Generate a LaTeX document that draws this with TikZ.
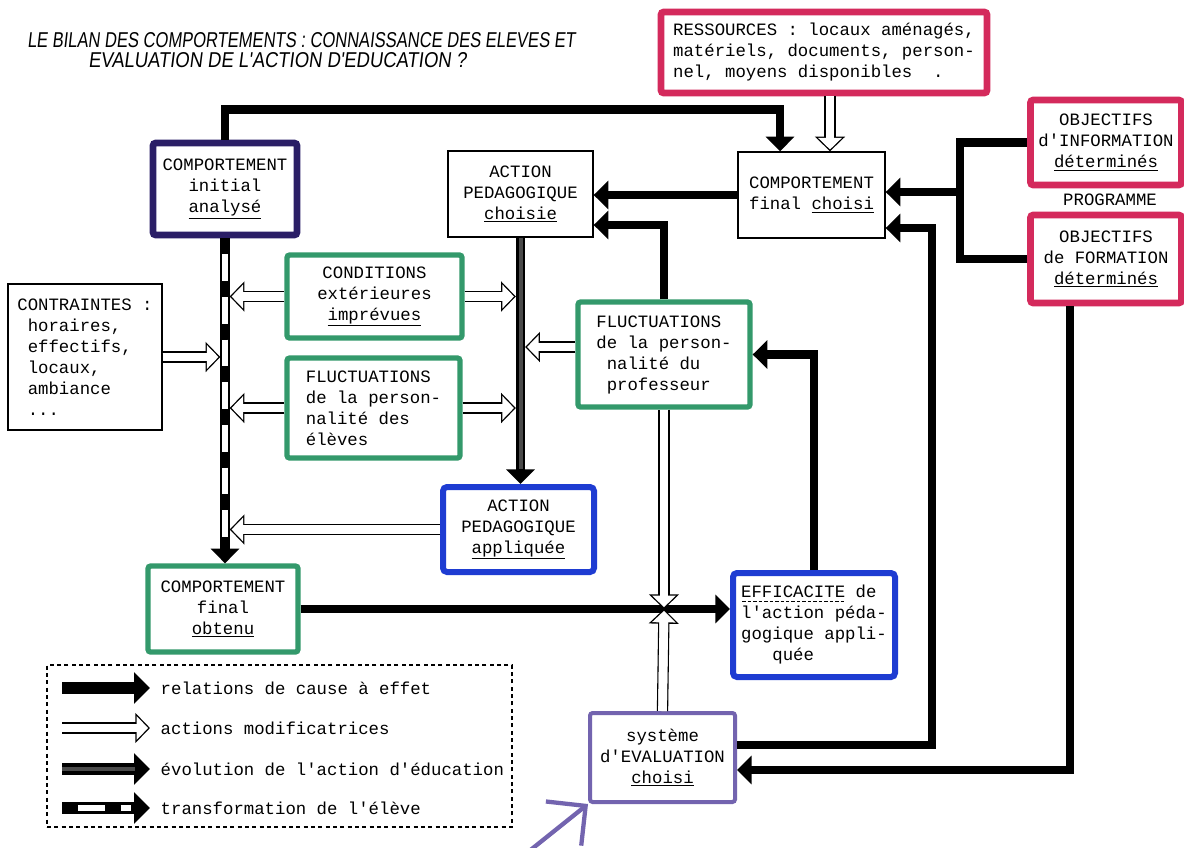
\documentclass[tikz,border=0pt]{standalone}
\usepackage{fontspec}
\usetikzlibrary{arrows.meta,calc}
\newfontfamily\tw{Liberation Mono}
\newfontfamily\titlefont{Liberation Sans}[FakeSlant=0.15]
\definecolor{cred}{HTML}{D42A5C}
\definecolor{cnavy}{HTML}{2A1E66}
\definecolor{cgreen}{HTML}{33996B}
\definecolor{cblue}{HTML}{1E3CD2}
\definecolor{clav}{HTML}{7364AF}
\definecolor{cgray}{HTML}{4A4A4A}
\newbox\dulbox
\newcommand\dashul[1]{\setbox\dulbox\hbox{#1}\rlap{\copy\dulbox}\raisebox{-3pt}{\hbox to \wd\dulbox{\xleaders\hbox to 4pt{\hss\vrule width 2.6pt height 0.7pt\hss}\hfill}}}
\tikzset{
  txt/.style={font=\tw\fontsize{13}{15.75}\selectfont},
  box/.style={txt, draw=black, line width=1pt, align=center, inner sep=2pt, fill=white},
  redbox/.style={box, draw=cred, line width=5pt, rounded corners=2pt},
  navybox/.style={box, draw=cnavy, line width=5pt, rounded corners=2pt},
  greenbox/.style={box, draw=cgreen, line width=4pt, rounded corners=2pt},
  bluebox/.style={box, draw=cblue, line width=4.5pt, rounded corners=3pt},
  lavbox/.style={box, draw=clav, line width=3pt, rounded corners=2pt},
  causeline/.style={draw=black, line width=6.5pt},
  cause/.style={causeline, -{Triangle[length=11pt,width=21pt]}},
  evol/.style={draw=black, line width=7pt, -{Triangle[length=11pt,width=21pt]},
     postaction={draw=cgray, line width=3pt, arrows=-, shorten >=11pt}},
  transf/.style={draw=black, line width=7.5pt, -{Triangle[length=11pt,width=21pt]},
     postaction={draw=white, line width=4.5pt, arrows=-, shorten >=14pt, shorten <=12pt, dash pattern=on 20pt off 12pt}},
  modif/.style={draw=black, line width=8.5pt, -{Triangle[length=11pt,width=22pt]},
     postaction={draw=white, line width=6.5pt, -{Triangle[length=8.6pt,width=17.2pt]}, shorten >=1.41pt},
     postaction={draw=white, line width=6.5pt, arrows=-, shorten >=6pt}},
  lavarrow/.style={draw=clav, line width=3.2pt, line cap=round, -{Straight Barb[angle=90:30pt]}},
}
\begin{document}
\begin{tikzpicture}[x=0.75pt, y=-0.75pt]
\useasboundingbox (0,0) rectangle (1184,847);
\fill[white] (0,0) rectangle (1184,847);

% title
\node[anchor=south west, inner sep=0] (title1) at (27,48) {\resizebox{411pt}{11.25pt}{\titlefont LE BILAN DES COMPORTEMENTS : CONNAISSANCE DES ELEVES ET}};
\node[anchor=south west, inner sep=0] (title2) at (88,68) {\resizebox{283.5pt}{11.25pt}{\titlefont EVALUATION DE L'ACTION D'EDUCATION ?}};

% boxes
\node[redbox, align=left, minimum width=244.5pt, minimum height=60.75pt] (RES) at (824,52.5)
 {RESSOURCES : locaux aménagés,\\matériels, documents, person-\\nel, moyens disponibles~~.};
\node[navybox, minimum width=108pt, minimum height=69pt] (INIT) at (225,189) {COMPORTEMENT\\initial\\\underline{analysé}};
\node[box, minimum width=108.75pt, minimum height=64.5pt] (APC) at (520.5,194) {ACTION\\PEDAGOGIQUE\\\underline{choisie}};
\node[box, minimum width=110.25pt, minimum height=64.5pt] (CFC) at (811.5,195) {COMPORTEMENT\\final \underline{choisi}};
\node[redbox, minimum width=113.25pt, minimum height=63.75pt] (OBI) at (1106,142.5) {OBJECTIFS\\d'INFORMATION\\\underline{déterminés}};
\node[txt] (PROG) at (1110,200) {PROGRAMME};
\node[redbox, minimum width=113.25pt, minimum height=66pt] (OBF) at (1106,259) {OBJECTIFS\\de FORMATION\\\underline{déterminés}};
\node[box, align=left, minimum width=115.5pt, minimum height=109.5pt] (CON) at (85,357) {CONTRAINTES :\\~horaires,\\~effectifs,\\~locaux,\\~ambiance\\~...};
\node[greenbox, minimum width=131.25pt, minimum height=62.25pt] (CEI) at (374.5,296.5) {CONDITIONS\\extérieures\\\underline{imprévues}};
\node[greenbox, align=left, minimum width=129.75pt, minimum height=75pt] (FPE) at (373.5,408) {FLUCTUATIONS\\de la person-\\nalité des\\élèves};
\node[greenbox, align=left, minimum width=129pt, minimum height=78.75pt] (FPP) at (664,354.5) {FLUCTUATIONS\\de la person-\\~nalité du\\~professeur};
\node[bluebox, minimum width=113.25pt, minimum height=63.75pt] (APA) at (518.5,529.5) {ACTION\\PEDAGOGIQUE\\\underline{appliquée}};
\node[greenbox, minimum width=112.5pt, minimum height=64.5pt] (CFO) at (223,609) {COMPORTEMENT\\final\\\underline{obtenu}};
\node[bluebox, align=left, minimum width=121.5pt, minimum height=78pt] (EFF) at (814,625) {\dashul{EFFICACITE} de\\l'action péda-\\gogique appli-\\~~~quée};
\node[lavbox, minimum width=108.75pt, minimum height=66.75pt] (EVA) at (662.5,757.5) {système\\d'EVALUATION\\\underline{choisi}};

% vertical bars
\coordinate (barLl) at ([xshift=-3.5pt]INIT.south);
\coordinate (barLr) at ([xshift=3.5pt]INIT.south);
\coordinate (barRl) at ([xshift=-3.5pt]APC.south);
\coordinate (barRr) at ([xshift=3.5pt]APC.south);
\draw[transf] (INIT.south) -- (CFO.north -| INIT.south);
\draw[evol] (APC.south) -- (APA.north -| APC.south);

% cause-effect connectors
\draw[cause] (INIT.north) -- ++(0,-30) -| ([xshift=-23.6pt]CFC.north);
\draw[modif] (RES.south -| 830,0) -- (CFC.north -| 830,0);
\draw[cause] (CFC.west) -- (APC.east |- CFC.west);
\draw[cause] (FPP.north) |- (APC.east |- 0,225);
\coordinate (J) at (960,192);
\draw[causeline] (OBI.west) -| (J) |- (OBF.west);
\draw[cause] (J) -- (CFC.east |- J);
\draw[cause] (EVA.east |- 0,745) -| (932,228) -- (CFC.east |- 0,228);
\draw[cause] (OBF.south -| 1070,0) |- (EVA.east |- 0,770);
\draw[cause] (EFF.north) |- (FPP.east);
\draw[cause] (CFO.east) -- (EFF.west |- CFO.east);
\coordinate (X) at (FPP.south |- CFO.east);
\draw[modif] (FPP.south) -- (X);
\draw[modif] (EVA.north) -- (X);

% modifying actions onto the bars
\draw[modif] (CEI.west) -- (CEI.west -| barLr);
\draw[modif] (CEI.east) -- (CEI.east -| barRl);
\draw[modif] (FPE.west) -- (FPE.west -| barLr);
\draw[modif] (FPE.east) -- (FPE.east -| barRl);
\draw[modif] (CON.east) -- (CON.east -| barLl);
\draw[modif] (FPP.west |- 0,347) -- (barRr |- 0,347);
\draw[modif] (APA.west) -- (APA.west -| barLr);

% pen arrow
\coordinate (pen) at (528,852);
\draw[lavarrow] (pen) -- (EVA.south west);

% legend
\node[draw, dash pattern=on 3pt off 2.5pt, line width=0.8pt, minimum width=348.75pt, minimum height=121.5pt] (LEG) at (279.5,746) {};
\coordinate (L1a) at (62,688); \coordinate (L1b) at (150,688);
\coordinate (L2a) at (62,728); \coordinate (L2b) at (150,728);
\coordinate (L3a) at (62,769); \coordinate (L3b) at (150,769);
\coordinate (L4a) at (62,808); \coordinate (L4b) at (150,808);
\draw[cause, line width=9pt, -{Triangle[length=12pt,width=23pt]}] (L1a) -- (L1b);
\draw[modif] (L2a) -- (L2b);
\draw[evol, line width=9pt, -{Triangle[length=12pt,width=23pt]}] (L3a) -- (L3b);
\draw[transf, line width=9pt, -{Triangle[length=12pt,width=23pt]}] (L4a) -- (L4b);
\node[txt, anchor=west] (T1) at (156,688) {relations de cause à effet};
\node[txt, anchor=west] (T2) at (156,728) {actions modificatrices};
\node[txt, anchor=west] (T3) at (156,769) {évolution de l'action d'éducation};
\node[txt, anchor=west] (T4) at (156,808) {transformation de l'élève};
\end{tikzpicture}
\end{document}
